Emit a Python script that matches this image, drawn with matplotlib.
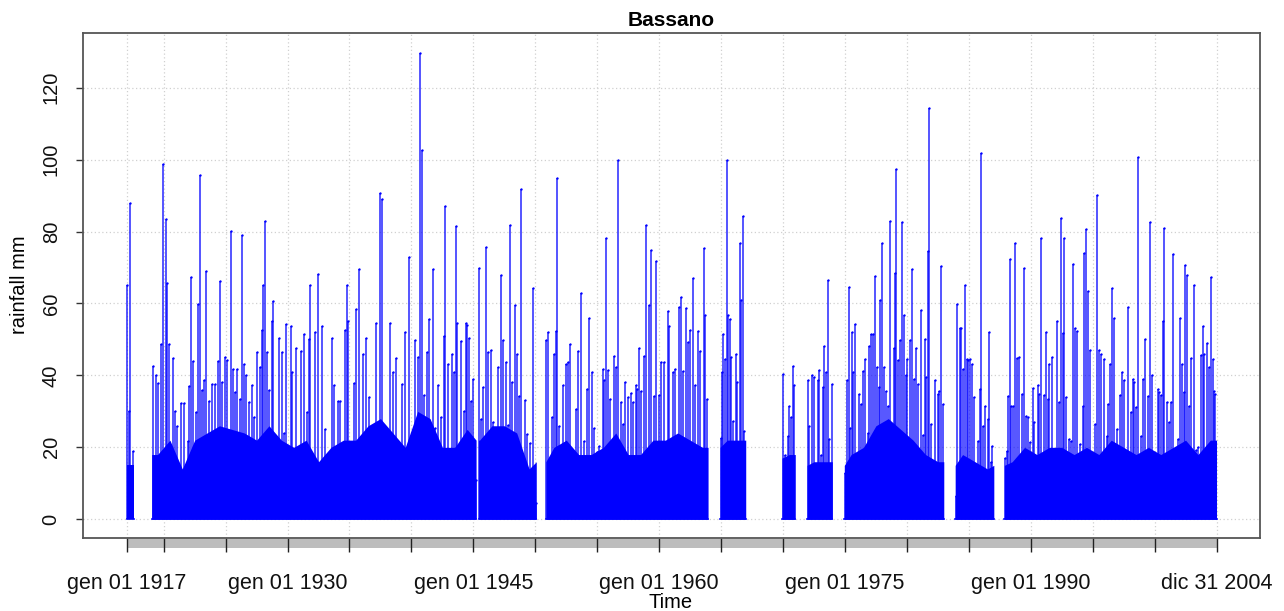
# Bassano daily rainfall, 1917-2004 (xts-style plot)
import numpy as np
import matplotlib.pyplot as plt
from matplotlib.patches import Rectangle
import matplotlib.transforms as mtransforms

plt.rcParams['font.family'] = ['Liberation Sans', 'DejaVu Sans']

# periods with observations (decimal years)
seg_start = [1917.00, 1919.03, 1945.42, 1950.85, 1964.92, 1969.92, 1971.94, 1974.95, 1983.90, 1987.87]
seg_end = [1917.62, 1945.22, 1950.08, 1963.95, 1966.99, 1970.99, 1973.98, 1982.98, 1987.02, 2005.00]

# level (mm) that the dense daily lines fill solid, one value per calendar year 1917..2004
base_first_year = 1917
base_mm = [
    15, 0, 18, 22, 14, 22, 24, 26, 25, 24,      # 1917-1926
    22, 26, 22, 20, 22, 16, 20, 22, 22, 26,     # 1927-1936
    28, 24, 20, 30, 28, 20, 20, 25, 22, 26,     # 1937-1946
    26, 24, 14, 16, 20, 22, 18, 18, 20, 24,     # 1947-1956
    18, 18, 22, 22, 24, 22, 20, 20, 22, 22,     # 1957-1966
    0, 0, 17, 18, 15, 16, 16, 15, 18, 20,       # 1967-1976
    26, 28, 25, 22, 18, 16, 15, 18, 16, 14,     # 1977-1986
    15, 16, 20, 18, 20, 20, 18, 20, 18, 22,     # 1987-1996
    20, 18, 20, 18, 20, 22, 18, 22,             # 1997-2004
]

# visible daily peaks (decimal year, mm)
peak_year = [
    1917.02, 1917.23, 1917.29, 1917.50,
    1919.17, 1919.35, 1919.52, 1919.76, 1919.95, 1920.16, 1920.30, 1920.46, 1920.75, 1920.89,
    1921.10, 1921.37, 1921.64, 1921.96, 1922.07, 1922.20, 1922.39, 1922.61, 1922.77, 1922.96,
    1923.09, 1923.28, 1923.44, 1923.66, 1923.92, 1924.14, 1924.38, 1924.54, 1924.73, 1924.92,
    1925.13, 1925.43, 1925.56, 1925.75, 1925.89, 1926.13, 1926.32, 1926.48, 1926.64, 1926.85,
    1927.15, 1927.28, 1927.55, 1927.77, 1927.93, 1928.01, 1928.17, 1928.36, 1928.52, 1928.74,
    1928.84, 1929.06, 1929.27, 1929.52, 1929.70, 1929.89,
    1930.24, 1930.38, 1930.65, 1931.05, 1931.29, 1931.53, 1931.75, 1931.85, 1932.23, 1932.42,
    1932.74, 1933.06, 1933.55, 1933.74, 1934.11, 1934.27, 1934.60, 1934.81, 1934.89, 1935.35,
    1935.56, 1935.78, 1936.10, 1936.37, 1936.59, 1936.83, 1937.18, 1937.45, 1937.61, 1937.82,
    1938.31, 1938.52, 1938.79, 1939.27, 1939.49, 1939.78, 1939.92,
    1940.32, 1940.51, 1940.67, 1940.86, 1941.02, 1941.26, 1941.42, 1941.75, 1941.91, 1942.12,
    1942.39, 1942.63, 1942.69, 1942.96, 1943.31, 1943.44, 1943.58, 1943.66, 1943.84, 1944.03,
    1944.25, 1944.41, 1944.52, 1944.68, 1944.78, 1945.00, 1945.19,
    1945.46, 1945.62, 1945.81, 1945.99, 1946.16, 1946.40, 1946.56, 1946.80, 1947.02, 1947.26,
    1947.42, 1947.61, 1947.80, 1947.98, 1948.15, 1948.33, 1948.55, 1948.71, 1948.82, 1949.19,
    1949.35, 1949.54, 1949.84, 1950.03,
    1950.89, 1951.05, 1951.37, 1951.51, 1951.64, 1951.77, 1951.91, 1952.26, 1952.45, 1952.63,
    1952.80, 1953.12, 1953.25, 1953.47, 1953.66, 1953.92, 1954.14, 1954.35, 1954.54, 1954.78,
    1955.00, 1955.16, 1955.43, 1955.56, 1955.73, 1955.89, 1956.05, 1956.32, 1956.51, 1956.64,
    1956.91, 1957.12, 1957.28, 1957.45, 1957.72, 1957.85, 1958.12, 1958.25, 1958.39, 1958.52,
    1958.79, 1958.92, 1959.19, 1959.38, 1959.60, 1959.78, 1959.95,
    1960.13, 1960.40, 1960.73, 1960.81, 1961.08, 1961.26, 1961.61, 1961.80, 1961.96, 1962.18,
    1962.34, 1962.50, 1962.77, 1962.88, 1963.15, 1963.31, 1963.63, 1963.68, 1963.84,
    1964.97, 1965.08, 1965.19, 1965.32, 1965.46, 1965.56, 1965.70, 1965.83, 1965.99, 1966.18,
    1966.32, 1966.51, 1966.64, 1966.77, 1966.85,
    1969.97, 1970.16, 1970.38, 1970.51, 1970.65, 1970.78, 1970.91,
    1971.99, 1972.12, 1972.34, 1972.47, 1972.66, 1972.80, 1972.90, 1973.06, 1973.20, 1973.33,
    1973.47, 1973.60, 1973.74, 1973.92,
    1975.00, 1975.16, 1975.30, 1975.43, 1975.56, 1975.65, 1975.83, 1976.02, 1976.16, 1976.29,
    1976.45, 1976.61, 1976.83, 1976.96, 1977.10, 1977.28, 1977.42, 1977.58, 1977.74, 1977.85,
    1977.96, 1978.12, 1978.28, 1978.44, 1978.66, 1978.76, 1978.98, 1979.06, 1979.14, 1979.30,
    1979.46, 1979.62, 1979.78, 1979.92,
    1980.05, 1980.27, 1980.40, 1980.54, 1980.73, 1980.91, 1981.16, 1981.29, 1981.48, 1981.56,
    1981.69, 1981.77, 1981.91, 1982.10, 1982.28, 1982.50, 1982.63, 1982.77, 1982.90,
    1983.98, 1984.06, 1984.25, 1984.38, 1984.52, 1984.70, 1984.87, 1984.97, 1985.13, 1985.27,
    1985.46, 1985.73, 1985.94, 1985.99, 1986.16, 1986.34, 1986.53, 1986.67, 1986.80, 1986.91,
    1987.93, 1988.06, 1988.15, 1988.31, 1988.41, 1988.60, 1988.74, 1988.90, 1989.09, 1989.30,
    1989.44, 1989.62, 1989.76, 1989.95,
    1990.16, 1990.30, 1990.56, 1990.70, 1990.83, 1991.05, 1991.24, 1991.37, 1991.51, 1991.72,
    1991.91, 1992.12, 1992.31, 1992.45, 1992.58, 1992.72, 1992.88, 1993.12, 1993.25, 1993.41,
    1993.58, 1993.74, 1994.01, 1994.19, 1994.27, 1994.46, 1994.60, 1994.76,
    1995.00, 1995.19, 1995.35, 1995.54, 1995.67, 1995.89, 1996.13, 1996.26, 1996.37, 1996.56,
    1996.75, 1996.96, 1997.18, 1997.37, 1997.55, 1997.82, 1998.09, 1998.23, 1998.36, 1998.49,
    1998.66, 1998.90, 1999.06, 1999.22, 1999.44, 1999.62, 1999.76,
    2000.11, 2000.24, 2000.38, 2000.51, 2000.65, 2000.78, 2000.99, 2001.18, 2001.32, 2001.51,
    2001.64, 2001.85, 2002.04, 2002.18, 2002.34, 2002.47, 2002.58, 2002.80, 2002.93, 2003.15,
    2003.33, 2003.52, 2003.74, 2003.87, 2004.01, 2004.22, 2004.41, 2004.54, 2004.68, 2004.81,
    2004.89,
]
peak_mm = [
    65.0, 30.0, 88.0, 19.0,
    42.5, 40.0, 38.0, 48.6, 98.9, 83.5, 65.7, 48.6, 44.9, 30.0,
    26.0, 32.3, 32.3, 21.8, 37.0, 67.3, 44.0, 29.7, 59.9, 95.8,
    36.0, 38.6, 69.0, 33.0, 37.7, 37.7, 44.0, 66.2, 38.3, 45.0,
    44.2, 80.2, 41.9, 35.3, 41.9, 33.5, 79.0, 43.3, 40.0, 32.5,
    37.2, 28.3, 46.5, 42.3, 52.6, 65.2, 83.0, 46.5, 36.0, 55.0,
    60.6, 18.5, 50.3, 46.4, 24.0, 54.2,
    53.8, 41.0, 47.7, 46.7, 51.4, 29.9, 50.0, 65.0, 52.0, 68.2,
    53.6, 25.0, 50.3, 37.2, 33.0, 33.0, 52.6, 65.0, 55.0, 38.0,
    58.5, 69.7, 46.0, 50.3, 34.0, 24.3, 54.5, 90.7, 89.0, 25.5,
    54.7, 41.0, 44.9, 37.7, 52.0, 72.9, 12.4,
    49.8, 45.1, 129.5, 102.8, 34.6, 46.5, 55.7, 69.7, 25.5, 37.2,
    28.3, 51.0, 87.0, 43.3, 46.0, 41.0, 81.6, 54.5, 18.0, 49.5,
    30.2, 54.5, 54.0, 50.5, 33.0, 38.9, 11.0,
    70.0, 27.9, 36.7, 75.7, 46.5, 47.0, 27.0, 24.6, 42.3, 68.0,
    49.8, 43.6, 26.2, 81.9, 38.1, 59.6, 46.0, 34.4, 91.9, 33.3,
    23.6, 21.3, 64.3, 4.5,
    49.8, 52.0, 28.3, 46.0, 52.3, 94.9, 26.0, 37.2, 43.3, 43.7,
    48.6, 12.9, 30.7, 46.7, 62.9, 21.8, 36.3, 56.0, 41.0, 25.5,
    18.7, 20.4, 41.9, 38.6, 78.3, 41.4, 33.5, 45.4, 42.3, 99.8,
    32.5, 26.4, 38.1, 34.0, 35.1, 32.5, 37.2, 36.3, 47.7, 35.8,
    45.3, 81.9, 59.6, 74.8, 34.4, 71.8, 34.6,
    43.7, 43.7, 57.9, 53.6, 41.0, 41.9, 59.1, 61.9, 41.1, 58.7,
    49.3, 52.6, 67.1, 37.2, 52.3, 46.7, 75.5, 56.8, 33.5,
    22.7, 41.0, 51.4, 44.7, 99.8, 56.8, 55.7, 45.1, 27.4, 46.0,
    38.1, 76.9, 61.0, 84.4, 24.6,
    40.5, 18.0, 23.2, 31.6, 28.3, 42.6, 37.2,
    38.6, 26.0, 40.2, 39.5, 14.8, 38.6, 41.4, 18.0, 36.7, 48.2,
    41.0, 66.6, 22.2, 37.7,
    12.9, 38.6, 64.5, 25.5, 52.1, 41.0, 54.2, 17.6, 34.9, 32.1,
    41.1, 44.7, 24.1, 48.2, 51.4, 51.4, 67.6, 42.3, 36.7, 61.0,
    76.9, 42.3, 35.8, 31.6, 83.0, 21.3, 47.5, 68.6, 97.4, 44.2,
    49.8, 82.6, 56.8, 40.0,
    44.7, 49.8, 69.7, 39.1, 47.7, 37.7, 58.3, 23.4, 50.1, 39.5,
    74.6, 114.3, 26.4, 12.0, 38.6, 34.9, 35.8, 70.4, 32.1,
    6.4, 59.8, 53.1, 53.1, 41.9, 65.0, 44.7, 44.2, 44.7, 43.3,
    34.0, 21.8, 36.3, 101.9, 26.0, 31.6, 27.9, 52.0, 15.9, 20.4,
    17.1, 19.0, 34.2, 72.5, 31.6, 31.4, 76.8, 44.9, 45.1, 34.9,
    69.9, 28.8, 28.3, 21.5,
    36.4, 27.0, 37.2, 34.9, 78.3, 34.6, 52.0, 33.5, 43.3, 45.1,
    11.0, 55.1, 32.5, 83.9, 51.7, 78.3, 34.0, 22.2, 21.8, 71.0,
    53.1, 52.3, 20.8, 31.6, 74.1, 80.6, 63.6, 47.0,
    15.7, 26.4, 90.2, 47.0, 46.0, 44.7, 23.2, 32.1, 43.3, 64.3,
    55.9, 25.0, 34.6, 41.0, 38.6, 58.9, 29.7, 39.1, 38.1, 31.1,
    100.6, 23.2, 39.1, 50.1, 34.4, 82.6, 40.0,
    15.0, 36.3, 35.3, 34.6, 55.0, 81.0, 32.5, 27.0, 32.7, 73.8,
    18.5, 22.2, 56.1, 43.3, 35.3, 70.8, 68.0, 31.6, 44.9, 65.0,
    19.4, 20.2, 45.8, 53.8, 46.0, 49.0, 42.3, 67.3, 44.7, 35.8,
    34.9,
]

tick_years = [1917, 1920, 1925, 1930, 1935, 1940, 1945, 1950, 1955, 1960,
              1965, 1970, 1975, 1980, 1985, 1990, 1995, 2000, 2005]
label_years = [1917, 1930, 1945, 1960, 1975, 1990, 2005]
label_text = ['gen 01 1917', 'gen 01 1930', 'gen 01 1945', 'gen 01 1960',
              'gen 01 1975', 'gen 01 1990', 'dic 31 2004']
y_ticks = [0, 20, 40, 60, 80, 100, 120]

fig = plt.figure(figsize=(12.84, 6.11), dpi=100)
ax = fig.add_axes([0.0646, 0.1195, 0.9168, 0.8265])

# grid first so the data sits on top
for t in tick_years:
    ax.axvline(t, color='#d0d0d0', lw=0.9, ls=(0, (1, 2)), zorder=0)
for t in y_ticks:
    ax.axhline(t, color='#d0d0d0', lw=0.9, ls=(0, (1, 2)), zorder=0)

# dense daily record: solid blue up to the yearly typical level (placed mid-year),
# drawn only inside the observed periods
for s, e in zip(seg_start, seg_end):
    xs = [s] + [y + 0.5 for y in range(int(s), int(np.ceil(e))) if s < y + 0.5 < e] + [e]
    lv = [base_mm[min(int(x), 2004) - base_first_year] for x in xs]
    ax.fill_between(xs, 0, lv, color='#0000ff', lw=0, zorder=2)
    ax.plot([s, e], [0, 0], color='#0000ff', lw=1.2, zorder=2)

# individual rain days
ax.vlines(peak_year, 0, peak_mm, color='#0000ff', lw=1.3, alpha=0.72, zorder=3)
ax.plot(peak_year, peak_mm, 'o', color='#0000ff', ms=1.7, mew=0, zorder=4)

ax.set_xlim(1913.48, 2008.52)
ax.set_ylim(-5.2, 135.2)

# xts-like axis: grey band under the data range, ticks crossing it
trans = mtransforms.blended_transform_factory(ax.transData, ax.transAxes)
ax.add_patch(Rectangle((tick_years[0], -0.019), tick_years[-1] - tick_years[0], 0.017,
                       transform=trans, facecolor='#bdbdbd', edgecolor='none',
                       clip_on=False, zorder=1))

ax.set_xticks(tick_years)
ax.set_xticklabels([label_text[label_years.index(t)] if t in label_years else ''
                    for t in tick_years])
ax.tick_params(axis='x', length=10, width=1.0, color='#222222', pad=15,
               labelsize=15.5, labelcolor='#111111')
ax.set_yticks(y_ticks)
ax.set_yticklabels([str(v) for v in y_ticks], rotation=90, va='center')
ax.tick_params(axis='y', length=5, width=1.0, color='#333333', pad=11,
               labelsize=14.5, labelcolor='#111111')

for sp in ax.spines.values():
    sp.set_color('#555555')
    sp.set_linewidth(1.3)

fig.text(671 / 1284, 1 - 20 / 611, 'Bassano', ha='center', va='center',
         fontsize=15, fontweight='bold')
fig.text(671 / 1284, 1 - 602 / 611, 'Time', ha='center', va='center', fontsize=14.5)
fig.text(20 / 1284, 1 - 285 / 611, 'rainfall mm', ha='center', va='center',
         rotation=90, fontsize=14.5)

fig.savefig('out.png', dpi=100)
